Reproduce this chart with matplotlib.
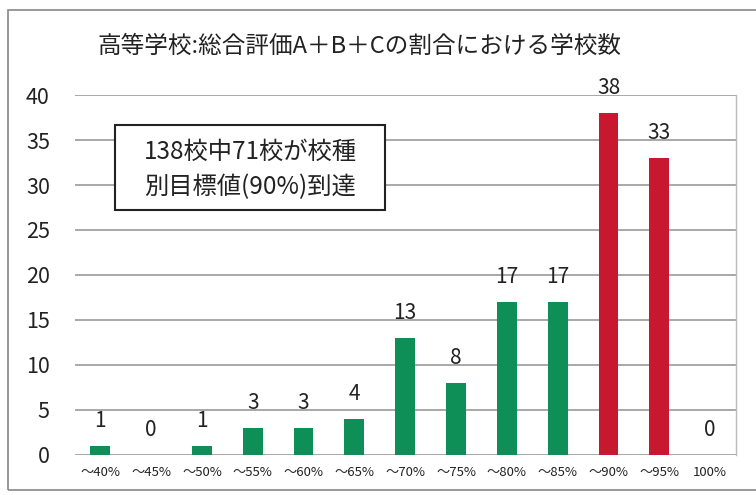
import matplotlib.pyplot as plt
from matplotlib.patches import Rectangle
import numpy as np

plt.rcParams['font.family'] = ['Noto Sans CJK JP', 'DejaVu Sans']

categories = ["～40%", "～45%", "～50%", "～55%", "～60%", "～65%", "～70%",
              "～75%", "～80%", "～85%", "～90%", "～95%", "100%"]
counts = [1, 0, 1, 3, 3, 4, 13, 8, 17, 17, 38, 33, 0]
reached = [False] * 10 + [True, True, True]

green = "#0F8F58"
red = "#C8182F"
colors = [red if r else green for r in reached]

W, H = 756, 495
fig = plt.figure(figsize=(W / 100, H / 100), dpi=100)
ax = fig.add_axes([0.099, 0.081, 0.874, 0.727])

x = np.arange(len(categories))
ax.bar(x, counts, width=0.39, color=colors, zorder=3)

for xi, v in zip(x, counts):
    ax.text(xi, v + 1.6, str(v), ha="center", va="bottom", fontsize=15, color="#222222")

ax.set_xlim(-0.5, len(categories) - 0.5)
ax.set_ylim(0, 40)
ax.set_yticks(range(0, 41, 5))
ax.set_xticks(x)
ax.set_xticklabels(categories, fontsize=9.5, color="#222222")
ax.tick_params(axis="y", labelsize=15.5, colors="#222222", length=0, pad=18)
ax.tick_params(axis="x", length=0, pad=8)
ax.yaxis.grid(True, color="#9a9a9a", linewidth=1.2, zorder=0)
for s in ["top", "left", "bottom"]:
    ax.spines[s].set_visible(False)
ax.spines["right"].set_color("#bbbbbb")
ax.spines["right"].set_linewidth(1.0)

fig.text(0.476, 0.907, "高等学校:総合評価A＋B＋Cの割合における学校数",
         ha="center", va="center", fontsize=17, color="#222222")

# note box
fig.patches.append(Rectangle((115 / W, 1 - 210 / H), 270 / W, 85 / H,
                             transform=fig.transFigure, facecolor="white",
                             edgecolor="#222222", linewidth=1.5, zorder=5))
fig.text(250 / W, 1 - 152 / H, "138校中71校が校種", ha="center", va="center",
         fontsize=17.5, color="#222222", zorder=6)
fig.text(250 / W, 1 - 187 / H, "別目標値(90%)到達", ha="center", va="center",
         fontsize=17.5, color="#222222", zorder=6)

# outer chart frame (right edge falls off the scan)
fig.patches.append(Rectangle((0.011, 0.01), 1.0, 0.97, transform=fig.transFigure,
                             fill=False, edgecolor="#888888", linewidth=1.2))

fig.savefig("out.png", dpi=100)
